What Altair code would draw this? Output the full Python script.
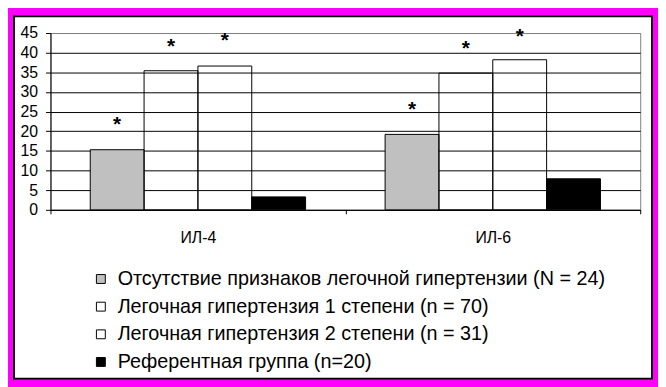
import altair as alt
import pandas as pd

categories = ["ИЛ-4", "ИЛ-6"]
series = [
    "Отсутствие признаков легочной гипертензии (N = 24)",
    "Легочная гипертензия 1 степени (n = 70)",
    "Легочная гипертензия 2 степени (n = 31)",
    "Референтная группа (n=20)",
]
il4_values = [15.3, 35.4, 36.6, 3.3]
il6_values = [19.2, 34.8, 38.2, 7.9]
il4_stars = [23.0, 43.0, 44.4, None]
il6_stars = [26.8, 42.3, 45.5, None]
y_ticks = [0, 5, 10, 15, 20, 25, 30, 35, 40, 45]
series_colors = ["#c0c0c0", "transparent", "transparent", "#000000"]

rows = []
for cat, vals, stars in zip(categories, [il4_values, il6_values], [il4_stars, il6_stars]):
    for s, v, st in zip(series, vals, stars):
        rows.append({"cat": cat, "series": s, "value": v, "star": st})
df = pd.DataFrame(rows)

FONT = "Arial"

x_enc = alt.X(
    "cat:N", sort=categories,
    scale=alt.Scale(paddingInner=0, paddingOuter=0),
    axis=alt.Axis(title=None, tickBand="extent", tickSize=4, labelPadding=16,
                  labelFontSize=16, labelFont=FONT, labelColor="black",
                  domainColor="black", tickColor="black", grid=False, labelAngle=0),
)
xoff_enc = alt.XOffset("series:N", sort=series,
                       scale=alt.Scale(paddingInner=0, paddingOuter=0.7385))
y_axis = alt.Axis(
    title=None, values=y_ticks, tickSize=5, labelPadding=8,
    labelFontSize=16, labelFont=FONT, labelColor="black",
    domainColor="black", tickColor="black",
    gridColor={"condition": {"test": "datum.value === 45", "value": "#808080"}, "value": "black"},
    gridOpacity=1, gridWidth=1,
)
y_scale = alt.Scale(domain=[0, 45], nice=False, zero=True)

bars = alt.Chart(df).mark_bar(stroke="black", strokeWidth=1).encode(
    x=x_enc,
    xOffset=xoff_enc,
    y=alt.Y("value:Q", scale=y_scale, axis=y_axis),
    color=alt.Color(
        "series:N", sort=series,
        scale=alt.Scale(domain=series, range=series_colors),
        legend=alt.Legend(
            title=None, orient="none", legendX=41, legendY=239, direction="vertical",
            symbolType="square", symbolSize=81, symbolStrokeColor="black",
            symbolStrokeWidth=1, labelFontSize=20, labelFont=FONT, labelColor="black",
            labelOffset=7, rowPadding=8, padding=0, labelLimit=700,
        ),
    ),
)

stars = alt.Chart(df).transform_filter("isValid(datum.star)").mark_text(
    text="*", fontSize=21, fontWeight="bold", font=FONT, baseline="alphabetic",
    dy=12, color="black",
).encode(
    x=x_enc,
    xOffset=xoff_enc,
    y=alt.Y("star:Q", scale=y_scale, axis=y_axis),
)

frame_df = pd.DataFrame({"k": [0]})
outer = alt.Chart(frame_df).mark_rect(fill="transparent", stroke="#ff00ff", strokeWidth=10).encode(
    x=alt.value(-43), x2=alt.value(615), y=alt.value(-23), y2=alt.value(356)
)
inner = alt.Chart(frame_df).mark_rect(fill="transparent", stroke="black", strokeWidth=2).encode(
    x=alt.value(-37), x2=alt.value(609), y=alt.value(-17), y2=alt.value(350)
)

chart = alt.layer(bars, stars, outer, inner).properties(
    width=597, height=179,
    autosize=alt.AutoSizeParams(type="none"),
    padding={"left": 43, "top": 23, "right": 18, "bottom": 177},
    background="white",
).configure_view(stroke="#808080", strokeWidth=1)

chart.save("out.html", embed_options={"renderer": "svg", "actions": False})
